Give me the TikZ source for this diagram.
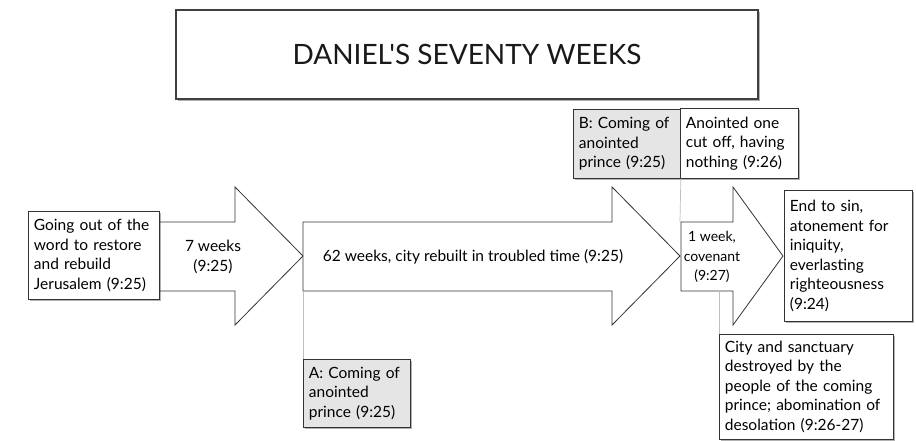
\documentclass[tikz,border=0pt]{standalone}
\usepackage{fontspec}
\setmainfont{Lato}
\newfontfamily\titlefont{Lato}
\usepackage{tikz}
\usetikzlibrary{shadows}
\tikzset{
  txtbox/.style={draw=black!80, fill=white, line width=0.8pt, align=left, anchor=north west, inner sep=5.5pt,
    font=\fontsize{15.5}{19.5}\selectfont,
    drop shadow={shadow xshift=1.5pt, shadow yshift=-1.5pt, opacity=0.3, fill=black}},
  graybox/.style={txtbox, fill=black!10},
  bigarrow/.style={draw=black!80, fill=white, line width=0.8pt, line join=miter},
  armtext/.style={align=center, font=\fontsize{15.5}{19.5}\selectfont},
  guide/.style={draw=black!25, line width=0.7pt}
}

\begin{document}
\begin{tikzpicture}[x=1pt,y=-1pt]
  \useasboundingbox (0,0) rectangle (916,440);
  \node[draw=black!75, fill=white, line width=2pt, minimum width=582pt, minimum height=89pt,
    font=\titlefont\fontsize{28}{32}\selectfont, text=black!90,
    drop shadow={shadow xshift=1.5pt, shadow yshift=-1.5pt, opacity=0.3, fill=black}] (title) at (467,54.5) {DANIEL'S SEVENTY WEEKS};
  \draw[bigarrow] (150,222) -- (235,222) -- (235,187) -- (303,256) -- (235,325) -- (235,291) -- (150,291) -- cycle;
  \draw[bigarrow] (303,222) -- (612,222) -- (612,187) -- (680,256) -- (612,325) -- (612,291) -- (303,291) -- cycle;
  \draw[bigarrow] (681,222) -- (733,222) -- (733,187) -- (783,256) -- (733,325) -- (733,291) -- (681,291) -- cycle;
  \coordinate (w62sw) at (303,291);
  \coordinate (w1nw) at (680,222);
  \coordinate (w1s) at (719,291);
  \node[armtext] (w7) at (213,257) {7 weeks\\(9:25)};
  \node[armtext] (w62) at (473,257) {62 weeks, city rebuilt in troubled time (9:25)};
  \node[armtext, font=\fontsize{14}{19.5}\selectfont] (w1) at (712,257) {1 week,\\covenant\\(9:27)};
  \node[txtbox, text width=120pt, minimum height=88pt] (start) at (28,211) {Going out of the\\word to restore\\and rebuild\\Jerusalem (9:25)};
  \node[graybox, text width=96pt, minimum height=68pt] (princeA) at (303,359) {A: Coming of\\anointed\\prince (9:25)};
  \node[graybox, text width=96pt, minimum height=69pt] (princeB) at (573,109) {B: Coming of\\anointed\\prince (9:25)};
  \node[txtbox, text width=107pt, minimum height=70pt] (cutoff) at (680,108) {Anointed one\\cut off, having\\nothing (9:26)};
  \node[txtbox, text width=117pt, minimum height=131pt] (endsin) at (784,190) {End to sin,\\atonement for\\iniquity,\\everlasting\\righteousness\\(9:24)};
  \node[txtbox, text width=163pt, minimum height=105pt] (city) at (719,334) {City and sanctuary\\destroyed by the\\people of the coming\\prince; abomination of\\desolation (9:26-27)};
  \draw[guide] (princeA.north west) -- (w62sw);
  \draw[guide] (princeB.south east) -- (w1nw);
  \draw[guide] (w1s) -- (city.north west);
\end{tikzpicture}
\end{document}
